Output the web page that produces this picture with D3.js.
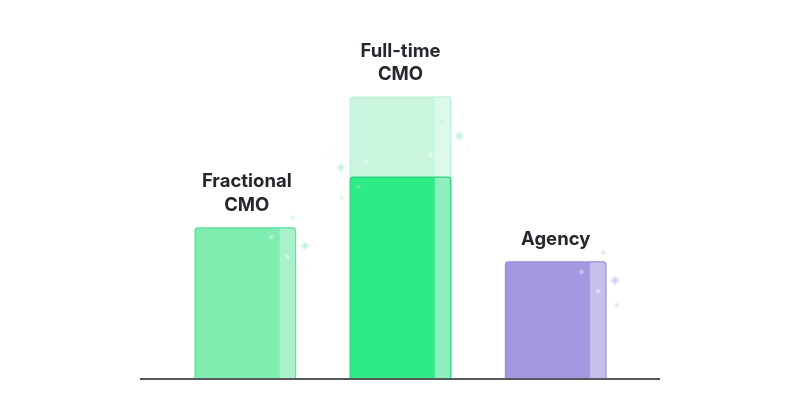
<!DOCTYPE html>
<html>
<head>
<meta charset="utf-8">
<script src="https://cdn.jsdelivr.net/npm/d3@7"></script>
<style>
html, body { margin: 0; padding: 0; background: #fff; }
svg { display: block; }
text { font-family: Inter, "Noto Sans", sans-serif; font-weight: 700; font-size: 18.5px; fill: #25282d; }
</style>
</head>
<body>
<svg id="chart" width="800" height="420"></svg>
<script>
// values, full-time target = 100
const categories = ["Fractional CMO", "Full-time CMO", "Agency"];
const labelLines = [["Fractional", "CMO"], ["Full-time", "CMO"], ["Agency"]];
const solidValues = [53.6, 71.6, 41.5];
const ghostValues = [null, 100, null];

// sparkle: category index, offset in band widths, value level, kind
const sparkles = [
    [0, 0.971, 57.3, "dot"], [0, 1.093, 47.2, "star"], [0, 1.103, 38.7, "faint"],
    [0, 0.758, 50.4, "white"], [0, 0.917, 43.4, "white"],
    [1, 0.91, 91.6, "dot"], [1, 1.085, 86.2, "star"], [1, 1.171, 81.6, "faint"],
    [1, 1.118, 94, "faint"], [1, 0.157, 77, "white"], [1, 0.80, 79.5, "white"],
    [1, -0.091, 75, "star"], [1, -0.084, 64.3, "dot"], [1, -0.17, 80.6, "faint"],
    [1, 0.08, 68.2, "inner"],
    [2, 0.973, 44.9, "dot"], [2, 1.089, 34.9, "star"], [2, 1.106, 26.2, "dot"],
    [2, 0.758, 38, "white"], [2, 0.92, 31.1, "white"]
];

const palette = [
    { fill: "#7FECB0", strip: "#A9F1CB", stroke: "#5FE29F", spark: "#BDEFDD" },
    { fill: "#2EEB86", strip: "#8FF0BD", stroke: "#2AD27F", spark: "#BDEFDD" },
    { fill: "#A597E1", strip: "#C6BEEC", stroke: "#9A8DD9", spark: "#D0C9EE" }
];
const ghost = { fill: "#C9F5DF", strip: "#DDF9EA", stroke: "#B8F0D4" };

const baseline = 379;
const stripWidth = 16;
const labelNudge = [1.5, 0, 0];

const x = d3.scaleBand().domain(d3.range(categories.length)).range([195, 606]).paddingInner(0.352);
const y = d3.scaleLinear().domain([0, 100]).range([baseline, 97]);

const svg = d3.select("#chart");

// the reference is a slightly soft image
const defs = svg.append("defs");
defs.append("filter").attr("id", "soft").append("feGaussianBlur").attr("stdDeviation", 0.45);
defs.append("filter").attr("id", "softer").append("feGaussianBlur").attr("stdDeviation", 0.8);

const root = svg.append("g").attr("filter", "url(#soft)");

function drawBar(g, i, value, colors) {
    const top = y(value);
    const left = x(i);
    const w = x.bandwidth();
    const r = 3;
    // path with rounded top corners only
    const outline = `M${left},${baseline}V${top + r}Q${left},${top} ${left + r},${top}H${left + w - r}Q${left + w},${top} ${left + w},${top + r}V${baseline}Z`;
    const clipId = `clip-${i}-${value}`.replace(".", "_");
    g.append("clipPath").attr("id", clipId).append("path").attr("d", outline);
    g.append("path").attr("d", outline).attr("fill", colors.fill);
    g.append("rect")
        .attr("clip-path", `url(#${clipId})`)
        .attr("x", left + w - stripWidth).attr("y", top)
        .attr("width", stripWidth).attr("height", baseline - top)
        .attr("fill", colors.strip);
    g.append("path").attr("d", outline)
        .attr("fill", "none").attr("stroke", colors.stroke).attr("stroke-width", 1.2);
}

categories.forEach((c, i) => {
    const g = root.append("g").attr("class", "bar");
    if (ghostValues[i] !== null) drawBar(g, i, ghostValues[i], ghost);
    drawBar(g, i, solidValues[i], palette[i]);
});

// sparkles
const starPath = s => `M0,${-s}Q0,0 ${s},0Q0,0 0,${s}Q0,0 ${-s},0Q0,0 0,${-s}Z`;
const sparkGroup = svg.append("g").attr("filter", "url(#softer)");
sparkles.forEach(([i, off, level, kind]) => {
    const px = x(i) + off * x.bandwidth();
    const py = y(level);
    const color = palette[i].spark;
    const g = sparkGroup.append("g").attr("transform", `translate(${px},${py})`);
    if (kind === "star") {
        g.append("path").attr("d", starPath(4.5)).attr("fill", color).attr("stroke", color).attr("stroke-width", 1.2);
    } else if (kind === "dot") {
        g.append("circle").attr("r", 1.7).attr("fill", color);
    } else if (kind === "faint") {
        g.append("circle").attr("r", 1.2).attr("fill", color).attr("opacity", 0.45);
    } else if (kind === "inner") {
        g.append("circle").attr("r", 1.7).attr("fill", "#8CF0BC");
    } else {
        g.append("circle").attr("r", 1.7).attr("fill", "#fff").attr("opacity", 0.9);
    }
});

// baseline
root.append("line")
    .attr("x1", 140).attr("x2", 660)
    .attr("y1", baseline).attr("y2", baseline)
    .attr("stroke", "#55585c").attr("stroke-width", 2);

// labels sit above the tallest bar of each category
const lineHeight = 23.5;
labelLines.forEach((lines, i) => {
    const top = ghostValues[i] !== null ? y(ghostValues[i]) : y(solidValues[i]);
    const cx = x(i) + x.bandwidth() / 2 + labelNudge[i];
    const t = root.append("text").attr("text-anchor", "middle").attr("x", cx);
    lines.forEach((line, k) => {
        t.append("tspan")
            .attr("x", cx)
            .attr("y", top - 17 - (lines.length - 1 - k) * lineHeight)
            .text(line);
    });
});
</script>
</body>
</html>
